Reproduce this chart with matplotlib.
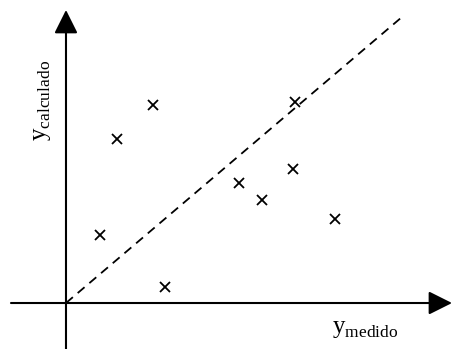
import matplotlib
matplotlib.use("Agg")
import matplotlib.pyplot as plt

plt.rcParams["mathtext.fontset"] = "custom"
plt.rcParams["mathtext.rm"] = "Liberation Serif"
plt.rcParams["font.family"] = "Liberation Serif"

# measured vs. calculated values (arbitrary units)
y_medido = [2.59, 1.52, 1.01, 2.95, 5.15, 5.83, 6.82, 6.76, 8.01]
y_calculado = [6.92, 5.73, 2.38, 0.56, 4.20, 3.60, 7.03, 4.69, 2.94]

# ideal agreement line y_calc = y_med
ideal_x = [0, 10]
ideal_y = [0, 10]

x_min, x_max = -1.964, 11.488
y_min, y_max = -1.608, 10.594

fig = plt.figure(figsize=(4.52, 3.49), dpi=100)
ax = fig.add_axes([0, 0, 1, 1])
ax.set_xlim(x_min, x_max)
ax.set_ylim(y_min, y_max)
ax.axis("off")

# axes with arrowheads
arrow_kw = dict(arrowstyle="-|>,head_length=1,head_width=0.5", mutation_scale=14.4,
                color="black", lw=1.5, shrinkA=0, shrinkB=0)
ax.annotate("", xy=(0, 10.245), xytext=(0, y_min), xycoords="data", arrowprops=arrow_kw)
ax.annotate("", xy=(x_max, 0), xytext=(-1.637, 0), xycoords="data", arrowprops=arrow_kw)

ax.plot(ideal_x, ideal_y, color="black", lw=1.3, linestyle=(0, (5, 3.5)))
ax.plot(y_medido, y_calculado, linestyle="none", marker="x", markersize=7,
        markeredgewidth=1.3, color="black")

fig.text(0.735, 0.046, r"$\mathrm{y}_{\mathrm{medido}}$", fontsize=18,
         ha="left", va="baseline")
fig.text(0.093, 0.711, r"$\mathrm{y}_{\mathrm{calculado}}$", fontsize=18,
         rotation=90, ha="center", va="center")

fig.savefig("out.png", dpi=100)
